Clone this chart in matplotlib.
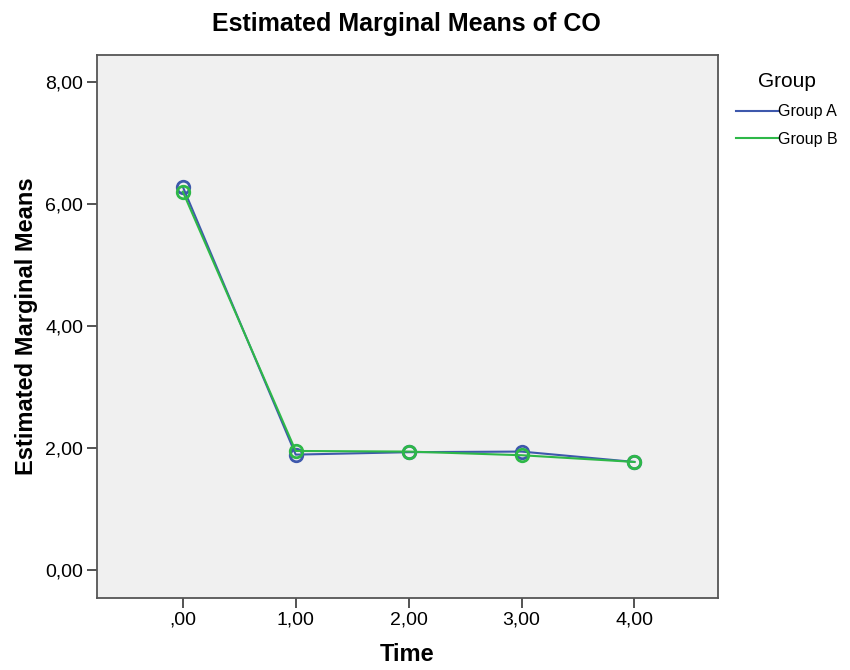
import numpy as np
import matplotlib.pyplot as plt
from matplotlib.lines import Line2D

time = [0, 1, 2, 3, 4]
time_labels = [",00", "1,00", "2,00", "3,00", "4,00"]
group_a = [6.28, 1.89, 1.93, 1.94, 1.77]
group_b = [6.20, 1.95, 1.94, 1.88, 1.77]
y_ticks = [0, 2, 4, 6, 8]
y_labels = ["0,00", "2,00", "4,00", "6,00", "8,00"]

blue = "#3e58ac"
green = "#2eb848"

plt.rcParams['font.family'] = ['Liberation Sans', 'DejaVu Sans']

fig = plt.figure(figsize=(8.5, 6.7), dpi=100)
ax = fig.add_axes([97/850, 1 - 598/670, (718-97)/850, (598-55)/670])
ax.set_facecolor("#f0f0f0")

ax.plot(time, group_a, color=blue, lw=1.5, marker="o", mfc="none", mec=blue, ms=9, mew=2, zorder=3)
ax.plot(time, group_b, color=green, lw=1.5, marker="o", mfc="none", mec=green, ms=9, mew=2, zorder=3)

ax.set_xlim(-0.76, 4.74)
ax.set_ylim(-0.46, 8.44)
ax.set_xticks(time)
ax.set_xticklabels(time_labels)
ax.set_yticks(y_ticks)
ax.set_yticklabels(y_labels)
ax.tick_params(labelsize=14, length=7, width=1.3, color="#444444", pad=3)
for s in ax.spines.values():
    s.set_color("#555555")
    s.set_linewidth(1.3)

ax.set_xlabel("Time", fontsize=17, fontweight="bold", labelpad=10)
ax.set_ylabel("Estimated Marginal Means", fontsize=17, fontweight="bold", labelpad=5)
fig.text(0.478, 1 - 24/670, "Estimated Marginal Means of CO", fontsize=18, fontweight="bold",
         ha="center", va="center")

handles = [Line2D([], [], color=blue, lw=1.5), Line2D([], [], color=green, lw=1.5)]
leg = fig.legend(handles, ["Group A", "Group B"], title="Group", loc="upper left",
                 bbox_to_anchor=(730/850, 1 - 66/670), frameon=False, fontsize=11.5,
                 title_fontsize=15, handlelength=2.6, handletextpad=0, borderaxespad=0,
                 labelspacing=0.8)

fig.savefig("out.png", dpi=100)
